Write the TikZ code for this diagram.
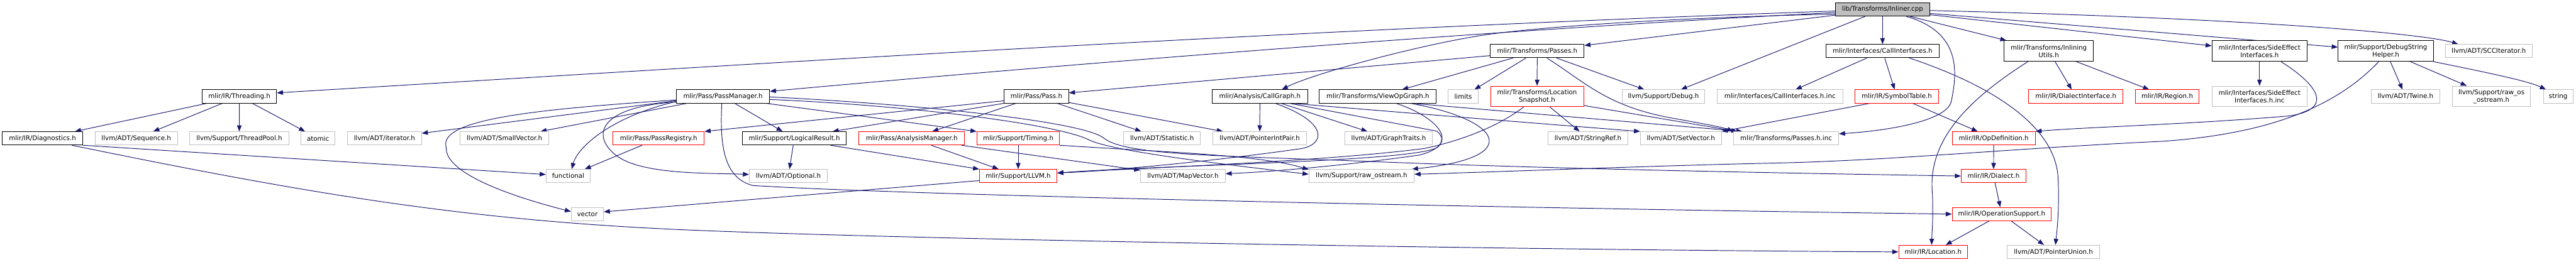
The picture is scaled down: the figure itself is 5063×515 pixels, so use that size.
\documentclass[tikz,border=0pt]{standalone}
\usepackage{fontspec}
\setmainfont{DejaVu Sans}
\usetikzlibrary{arrows.meta,backgrounds}
\definecolor{edgec}{HTML}{191970}
\definecolor{grayb}{HTML}{BFBFBF}
\definecolor{rootf}{HTML}{BFBFBF}
\begin{document}
\begin{tikzpicture}[x=1pt,y=-1pt,
  nd/.style={draw, fill=white, line width=1.2pt, inner sep=0pt, minimum height=26pt,
    font=\fontsize{12.7}{15}\selectfont, align=center},
  blk/.style={nd, draw=black},
  rd/.style={nd, draw=red},
  gy/.style={nd, draw=grayb},
  twol/.style={minimum height=40.5pt},
  edg/.style={draw=edgec, line width=1.2pt, -{Triangle[length=12pt,width=9pt]}},
]
\useasboundingbox (0,0) rectangle (5063,515);
% row 0
\node[blk, fill=rootf, minimum width=185pt] (root) at (3700,18.7) {lib/Transforms/Inliner.cpp};
% row 1
\node[blk, minimum width=184pt] (passes) at (3021.4,100.5) {mlir/Transforms/Passes.h};
\node[blk, minimum width=223pt] (callif) at (3700,100.5) {mlir/Interfaces/CallInterfaces.h};
\node[blk, twol, minimum width=176pt] (inlutils) at (4026.7,100.5) {mlir/Transforms/Inlining\\Utils.h};
\node[blk, twol, minimum width=187pt] (sideeff) at (4441,100.5) {mlir/Interfaces/SideEffect\\Interfaces.h};
\node[blk, twol, minimum width=187pt] (dbgstr) at (4689,100.5) {mlir/Support/DebugString\\Helper.h};
\node[gy, minimum width=171pt] (scc) at (4891.4,100.5) {llvm/ADT/SCCIterator.h};
% row 2
\node[blk, minimum width=146pt] (threading) at (470.5,189.7) {mlir/IR/Threading.h};
\node[blk, minimum width=183pt] (pm) at (1421,189.7) {mlir/Pass/PassManager.h};
\node[blk, minimum width=126.5pt] (pass) at (2037,189.7) {mlir/Pass/Pass.h};
\node[blk, minimum width=187pt] (callgraph) at (2476.3,189.7) {mlir/Analysis/CallGraph.h};
\node[blk, minimum width=230pt] (viewop) at (2708,189.7) {mlir/Transforms/ViewOpGraph.h};
\node[gy, minimum width=58.4pt] (limits) at (2875.8,189.7) {limits};
\node[rd, twol, minimum width=183pt] (locsnap) at (3021,189.7) {mlir/Transforms/Location\\Snapshot.h};
\node[gy, minimum width=163pt] (debug) at (3269.4,189.7) {llvm/Support/Debug.h};
\node[gy, minimum width=247pt] (callifinc) at (3498.4,189.7) {mlir/Interfaces/CallInterfaces.h.inc};
\node[rd, minimum width=164pt] (symtab) at (3728,189.7) {mlir/IR/SymbolTable.h};
\node[rd, minimum width=186pt] (dialectif) at (4079.9,189.7) {mlir/IR/DialectInterface.h};
\node[rd, minimum width=126pt] (region) at (4259.5,189.7) {mlir/IR/Region.h};
\node[gy, twol, minimum width=187pt] (sideeffinc) at (4441,189.7) {mlir/Interfaces/SideEffect\\Interfaces.h.inc};
\node[gy, minimum width=134pt] (twine) at (4727.9,189.7) {llvm/ADT/Twine.h};
\node[gy, twol, minimum width=154pt] (rawos) at (4896.8,189.7) {llvm/Support/raw\_os\\\_ostream.h};
\node[gy, minimum width=58.6pt] (string) at (5028,189.7) {string};
% row 3
\node[blk, minimum width=158pt] (diag) at (83.5,272.2) {mlir/IR/Diagnostics.h};
\node[gy, minimum width=161.6pt] (sequence) at (267.8,272.2) {llvm/ADT/Sequence.h};
\node[gy, minimum width=194.6pt] (threadpool) at (470.3,272.2) {llvm/Support/ThreadPool.h};
\node[gy, minimum width=67.3pt] (atomic) at (625,272.2) {atomic};
\node[gy, minimum width=145.3pt] (iterator) at (755.7,272.2) {llvm/ADT/iterator.h};
\node[gy, minimum width=174.6pt] (smallvec) at (991.5,272.2) {llvm/ADT/SmallVector.h};
\node[rd, minimum width=179pt] (passreg) at (1294.5,272.2) {mlir/Pass/PassRegistry.h};
\node[blk, minimum width=205pt] (logres) at (1561.2,272.2) {mlir/Support/LogicalResult.h};
\node[rd, minimum width=208pt] (anmgr) at (1791.9,272.2) {mlir/Pass/AnalysisManager.h};
\node[rd, minimum width=162.5pt] (timing) at (2001.2,272.2) {mlir/Support/Timing.h};
\node[gy, minimum width=150.6pt] (statistic) at (2283.9,272.2) {llvm/ADT/Statistic.h};
\node[gy, minimum width=183.8pt] (ptrint) at (2475.9,272.2) {llvm/ADT/PointerIntPair.h};
\node[gy, minimum width=172pt] (graphtraits) at (2729.3,272.2) {llvm/ADT/GraphTraits.h};
\node[gy, minimum width=157.3pt] (stringref) at (3121,272.2) {llvm/ADT/StringRef.h};
\node[gy, minimum width=159pt] (setvector) at (3303.7,272.2) {llvm/ADT/SetVector.h};
\node[gy, minimum width=206.4pt] (passesinc) at (3510.5,272.2) {mlir/Transforms/Passes.h.inc};
\node[rd, minimum width=163pt] (opdef) at (3918.5,272.2) {mlir/IR/OpDefinition.h};
% row 4
\node[gy, minimum width=86.7pt] (functional) at (1116.7,346.3) {functional};
\node[gy, minimum width=153.4pt] (optional) at (1549.5,346.3) {llvm/ADT/Optional.h};
\node[rd, minimum width=152.3pt] (llvm) at (2001.2,346.3) {mlir/Support/LLVM.h};
\node[gy, minimum width=166.5pt] (mapvector) at (2325,346.3) {llvm/ADT/MapVector.h};
\node[gy, minimum width=206.8pt] (rawostream) at (2676,346.3) {llvm/Support/raw\_ostream.h};
\node[rd, minimum width=127pt] (dialect) at (3918.2,346.3) {mlir/IR/Dialect.h};
% row 5
\node[gy, minimum width=63.4pt] (vector) at (1154.4,421.2) {vector};
\node[rd, minimum width=194.6pt] (opsupport) at (3934.3,421.2) {mlir/IR/OperationSupport.h};
% row 6
\node[rd, minimum width=135.5pt] (location) at (3799.5,495.5) {mlir/IR/Location.h};
\node[gy, minimum width=182pt] (ptrunion) at (4035.9,495.5) {llvm/ADT/PointerUnion.h};

\begin{scope}[on background layer]
% root
\draw[edg] ([yshift=-3pt]root.west) .. controls (2500,60) and (1500,125) .. ([yshift=7pt]threading.east);
\draw[edg] ([yshift=-6pt]root.west) .. controls (2900,60) and (2000,135) .. ([yshift=10pt]pm.east);
\draw[edg] ([yshift=-9pt]root.west) .. controls (3400,32) and (3100,45) .. (2930,67) .. controls (2800,85) and (2580,145) .. ([xshift=43pt]callgraph.north);
\draw[edg] (root) -- (passes);
\draw[edg] (root) -- (debug);
\draw[edg] (root) -- (callif);
\draw[edg] ([xshift=47pt]root.south) .. controls (3860,65) and (3845,150) .. (3835,200) .. controls (3825,240) and (3700,258) .. ([yshift=9pt]passesinc.east);
\draw[edg] (root) -- (inlutils);
\draw[edg] (root) -- (sideeff);
\draw[edg] (root) -- (dbgstr);
\draw[edg] ([yshift=-2pt]root.east) .. controls (4400,35) and (4760,65) .. ([xshift=-60pt]scc.north);
% threading
\draw[edg] (threading) -- (diag);
\draw[edg] (threading) -- (sequence);
\draw[edg] (threading) -- (threadpool);
\draw[edg] (threading) -- (atomic);
% diagnostics
\draw[edg] (diag.south east) -- ([yshift=3pt]functional.west);
\draw[edg] ([xshift=58pt]diag.south) .. controls (600,380) and (900,430) .. (1300,450) .. controls (1700,470) and (3000,492) .. (location.west);
% pass manager
\draw[edg] (pm) -- (smallvec);
\draw[edg] ([yshift=-10pt]pm.west) .. controls (1200,230) and (1135,290) .. ([xshift=7pt]functional.north);
\draw[edg] ([yshift=-7pt]pm.west) .. controls (1050,215) and (860,235) .. (877,290) .. controls (874,340) and (1000,385) .. ([yshift=5pt]vector.west);
\draw[edg] ([yshift=-11pt]pm.west) .. controls (1180,210) and (1160,265) .. (1210,305) .. controls (1260,345) and (1400,340) .. ([yshift=3pt]optional.west);
\draw[edg] ([yshift=-8.5pt]pm.west) -- ([yshift=10pt]iterator.east);
\draw[edg] (pm) -- (logres);
\draw[edg] ([xshift=-7pt]pm.south east) -- (timing.north west);
\draw[edg] ([xshift=-2.4pt]pm.south) .. controls (1415,280) and (1420,350) .. (1480,365) .. controls (1800,385) and (3000,410) .. (opsupport.west);
\draw[edg] ([yshift=-1pt]pm.east) .. controls (1800,205) and (2128,238) .. (2170,272) .. controls (2212,306) and (2400,306) .. (2700,318) .. controls (3100,334) and (3600,342) .. (dialect.west);
\draw[edg] ([yshift=-6pt]pm.east) .. controls (1800,208) and (2080,245) .. (2140,275) .. controls (2185,298) and (2420,325) .. ([yshift=3.5pt]rawostream.west);
% pass
\draw[edg] ([yshift=-8.5pt]pass.west) -- (passreg.north east);
\draw[edg] (pass.south west) -- ([xshift=-28pt]logres.north east);
\draw[edg] (pass) -- (anmgr);
\draw[edg] (pass) -- (statistic);
\draw[edg] (pass) -- (ptrint);
\draw[edg] (passreg) -- (functional);
\draw[edg] (logres) -- (optional);
\draw[edg] ([xshift=-32pt]logres.south east) -- (llvm.north west);
\draw[edg] (anmgr) -- (llvm);
\draw[edg] (anmgr) -- (mapvector);
\draw[edg] (timing) -- (llvm);
\draw[edg] (timing.south east) .. controls (2300,300) and (2480,305) .. ([yshift=-1pt]rawostream.north west);
\draw[edg] ([yshift=-9pt]llvm.west) -- ([yshift=4.5pt]vector.east);
% call graph
\draw[edg] (callgraph) -- (ptrint);
\draw[edg] (callgraph) -- (graphtraits);
\draw[edg] ([xshift=62pt]callgraph.south) .. controls (2800,225) and (3050,245) .. (setvector.north west);
\draw[edg] ([xshift=30pt]callgraph.south) .. controls (2610,240) and (2605,282) .. (2560,292) .. controls (2400,315) and (2200,335) .. ([yshift=6pt]llvm.east);
\draw[edg] ([xshift=58pt]callgraph.south) -- (2824,258) .. controls (2845,275) and (2830,295) .. (2790,305) .. controls (2650,325) and (2500,338) .. ([yshift=4.6pt]mapvector.east);
% view op graph
\draw[edg] ([xshift=36pt]viewop.south) .. controls (2810,225) and (2855,265) .. (2825,290) .. controls (2780,318) and (2300,324) .. ([yshift=6pt]llvm.east);
\draw[edg] ([xshift=64pt]viewop.south) .. controls (2950,235) and (3000,310) .. ([xshift=-5pt]rawostream.north east);
\draw[edg] ([xshift=67pt]viewop.south) -- ([xshift=18pt]passesinc.north west);
% passes
\draw[edg] ([yshift=-9pt]passes.west) -- ([yshift=7pt]pass.east);
\draw[edg] (passes) -- (viewop);
\draw[edg] (passes) -- (limits);
\draw[edg] (passes) -- (locsnap);
\draw[edg] (passes) -- (debug);
\draw[edg] ([xshift=19pt]passes.south) .. controls (3120,165) and (3160,210) .. (3290,233) .. controls (3340,242) and (3385,250) .. (passesinc.north west);
% location snapshot
\draw[edg] ([xshift=-26.5pt]locsnap.south) .. controls (2950,245) and (2880,275) .. (2800,292) .. controls (2600,318) and (2250,330) .. ([yshift=6pt]llvm.east);
\draw[edg] (locsnap) -- (stringref);
\draw[edg] ([yshift=3pt]locsnap.south east) -- ([xshift=8pt]passesinc.north west);
% call interfaces
\draw[edg] (callif) -- (callifinc);
\draw[edg] (callif) -- (symtab);
\draw[edg] ([xshift=52.7pt]callif.south) .. controls (3920,170) and (4040,250) .. (4045,350) .. controls (4048,420) and (4042,460) .. ([xshift=4pt]ptrunion.north);
\draw[edg] (symtab) -- (opdef);
\draw[edg] ([xshift=-53pt]symtab.south) -- (setvector.north east);
% inlining utils
\draw[edg] ([xshift=-41.2pt]inlutils.south) .. controls (3870,195) and (3788,275) .. (3798,380) .. controls (3800,430) and (3797,460) .. ([xshift=-3pt]location.north);
\draw[edg] (inlutils) -- (dialectif);
\draw[edg] (inlutils) -- (region);
% side effects
\draw[edg] (sideeff) -- (sideeffinc);
\draw[edg] ([xshift=42.3pt]sideeff.south) .. controls (4560,170) and (4585,215) .. (4500,228) .. controls (4300,245) and (4100,250) .. (opdef.north east);
% debug string helper
\draw[edg] ([xshift=-13.8pt]dbgstr.south) .. controls (4600,200) and (4480,262) .. (4250,278) .. controls (3950,292) and (3720,316) .. (3480,321) .. controls (3250,326) and (2950,338) .. ([yshift=3.5pt]rawostream.east);
\draw[edg] (dbgstr) -- (twine);
\draw[edg] (dbgstr) -- (rawos);
\draw[edg] (dbgstr.south east) .. controls (4900,145) and (4970,160) .. ([xshift=-24pt]string.north);
% IR chain
\draw[edg] (opdef) -- (dialect);
\draw[edg] (dialect) -- (opsupport);
\draw[edg] (opsupport) -- (location);
\draw[edg] (opsupport) -- (ptrunion);
\end{scope}
\end{tikzpicture}
\end{document}
